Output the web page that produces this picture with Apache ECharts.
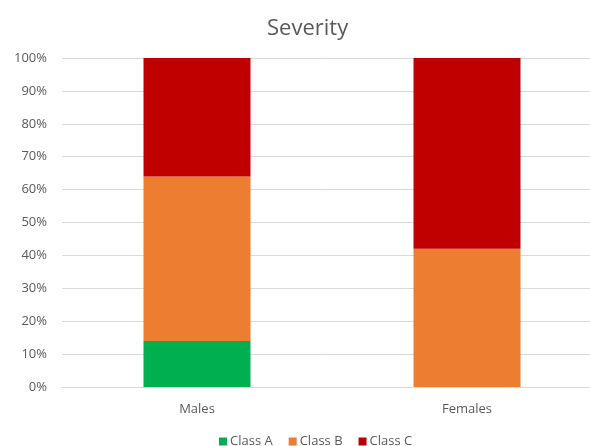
<!DOCTYPE html>
<html>
<head>
<meta charset="utf-8">
<script src="https://cdn.jsdelivr.net/npm/echarts@6/dist/echarts.min.js"></script>
<style>
  html, body { margin: 0; padding: 0; background: #ffffff; }
  #chart { width: 590px; height: 446px; }
</style>
</head>
<body>
<div id="chart"></div>
<script>
// Share of each severity class per sex (percent of group)
const categories = ['Males', 'Females'];
const seriesNames = ['Class A', 'Class B', 'Class C'];
const classA = [14, 0];
const classB = [50, 42];
const classC = [36, 58];
const yTicks = [0, 10, 20, 30, 40, 50, 60, 70, 80, 90, 100];

const colors = ['#00b050', '#ed7d31', '#c00000'];
const textColor = '#595959';
const font = "'Open Sans', 'Liberation Sans', sans-serif";

const values = [classA, classB, classC];

const chart = echarts.init(document.getElementById('chart'), null, { renderer: 'canvas' });

chart.setOption({
  animation: false,
  backgroundColor: '#ffffff',
  title: {
    text: 'Severity',
    left: 262,
    top: 13,
    textStyle: { fontFamily: font, fontSize: 22, fontWeight: 'normal', color: textColor }
  },
  legend: {
    data: seriesNames,
    left: 214,
    top: 430,
    itemWidth: 8,
    itemHeight: 8,
    itemGap: 16,
    icon: 'rect',
    textStyle: { fontFamily: font, fontSize: 13, color: textColor, padding: [0, 0, 0, -2] }
  },
  grid: {
    left: 62,
    top: 58,
    width: 540,
    height: 329,
    outerBoundsMode: 'none',
    containLabel: false
  },
  xAxis: {
    type: 'category',
    data: categories,
    axisLine: { show: true, lineStyle: { color: '#d9d9d9', width: 1 } },
    axisTick: { show: false },
    axisLabel: { fontFamily: font, fontSize: 13, color: textColor, margin: 16 }
  },
  yAxis: {
    type: 'value',
    min: yTicks[0],
    max: yTicks[yTicks.length - 1],
    interval: yTicks[1] - yTicks[0],
    axisLine: { show: false },
    axisTick: { show: false },
    splitLine: { lineStyle: { color: '#d9d9d9', width: 1 } },
    axisLabel: {
      fontFamily: font, fontSize: 13, color: textColor, margin: 15,
      formatter: v => v + '%'
    }
  },
  series: seriesNames.map((name, i) => ({
    name: name,
    type: 'bar',
    stack: 'total',
    barWidth: 107,
    data: values[i],
    itemStyle: { color: colors[i] }
  }))
});
</script>
</body>
</html>
